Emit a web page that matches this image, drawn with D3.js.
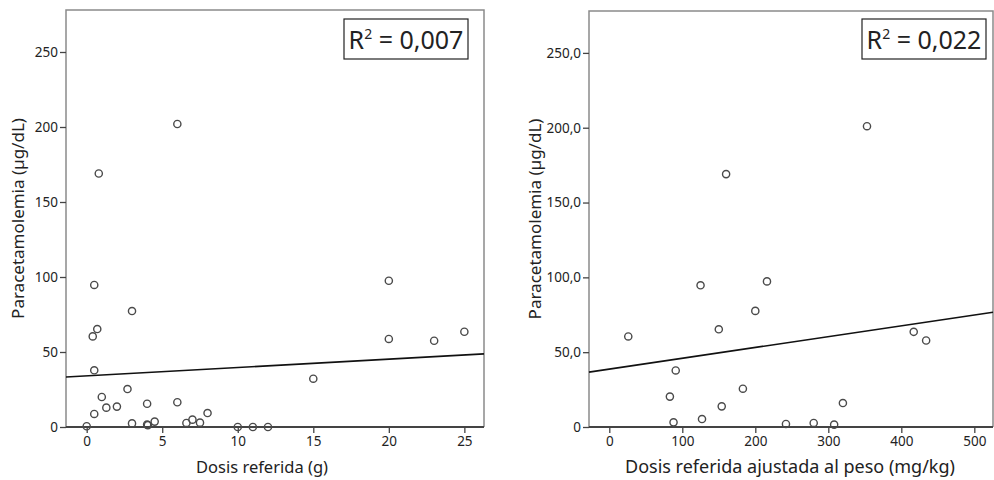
<!DOCTYPE html>
<html>
<head>
<meta charset="utf-8">
<script src="https://cdn.jsdelivr.net/npm/d3@7"></script>
<style>
  body { margin: 0; background: #fff; }
  svg text { font-family: "Noto Sans", "Open Sans", sans-serif; fill: #222; }
</style>
</head>
<body>
<svg id="chart" width="994" height="480"></svg>
<script>
// left panel: dose (g) vs paracetamol level
var doseG = [0.8, 6, 0.5, 3, 0.7, 0.4, 0.5, 2.7, 1.0, 1.3, 2.0, 0.5, 4.0, 6.0, 8.0,
             0, 3.0, 4.0, 4.05, 4.5, 6.6, 7.0, 7.5, 10, 11, 12, 15, 20, 20, 23, 25]
var levelG = [169, 202, 94.7, 77.3, 65.3, 60.4, 37.8, 25.3, 20, 12.9, 13.6, 8.7, 15.5, 16.5, 9.3,
              0.5, 2.4, 1.6, 1.2, 3.6, 2.7, 4.9, 2.9, 0, 0, 0, 32.2, 97.5, 58.7, 57.5, 63.5]
// right panel: dose adjusted by weight (mg/kg)
var doseKg = [160, 353, 125, 26, 150, 91, 83, 183, 154, 88, 127, 216, 200, 417, 434, 320, 242, 280, 308]
var levelKg = [169, 201, 94.7, 60.5, 65.3, 37.8, 20.3, 25.6, 13.8, 3.1, 5.3, 97.3, 77.6, 63.6, 57.8, 16, 2, 2.7, 1.6]

// fit lines [intercept, slope]
var fitG = [34.1, 0.556]
var fitKg = [38.7, 0.0723]
var r2Labels = ["0,007", "0,022"]

var yTicks = [0, 50, 100, 150, 200, 250]
var xTicksG = [0, 5, 10, 15, 20, 25]
var xTicksKg = [0, 100, 200, 300, 400, 500]

var svg = d3.select("#chart")

function drawPanel(opts){
    var g = svg.append("g")
    var x = d3.scaleLinear().domain(opts.xDomain).range([opts.left, opts.right])
    var y = d3.scaleLinear().domain([0, 278]).range([opts.bottom, opts.top])

    // frame (top / right / left)
    g.append("path")
        .attr("d", "M" + opts.left + "," + opts.bottom + "V" + opts.top + "H" + opts.right + "V" + opts.bottom)
        .attr("fill", "none")
        .attr("stroke", "#8a8a8a")
        .attr("stroke-width", 1.5)

    var yAxis = g.append("g")
        .attr("transform", "translate(" + opts.left + ",0)")
        .call(d3.axisLeft(y).tickValues(yTicks).tickSize(6).tickPadding(2).tickFormat(opts.yFormat))
    yAxis.select(".domain").remove()
    yAxis.selectAll("line").attr("stroke", "#444").attr("stroke-width", 1.3)
    yAxis.selectAll("text").style("font-size", "13.5px").attr("fill", "#222")

    var xAxis = g.append("g")
        .attr("transform", "translate(0," + opts.bottom + ")")
        .call(d3.axisBottom(x).tickValues(opts.xTicks).tickSize(6).tickPadding(3).tickFormat(d3.format("d")))
    xAxis.select(".domain").attr("stroke", "#444").attr("stroke-width", 2.2)
        .attr("d", "M" + opts.left + ",0H" + opts.right)
    xAxis.selectAll("line").attr("stroke", "#444").attr("stroke-width", 1.3)
    xAxis.selectAll("text").style("font-size", "13.5px").attr("fill", "#222")

    // regression line
    var xs = opts.xDomain
    g.append("line")
        .attr("x1", x(xs[0])).attr("y1", y(opts.fit[0] + opts.fit[1] * xs[0]))
        .attr("x2", x(xs[1])).attr("y2", y(opts.fit[0] + opts.fit[1] * xs[1]))
        .attr("stroke", "#111")
        .attr("stroke-width", 1.6)

    // points
    g.append("g").selectAll("circle")
        .data(opts.xs)
        .enter()
        .append("circle")
        .attr("cx", function(d){ return x(d) })
        .attr("cy", function(d, i){ return y(opts.ys[i]) })
        .attr("r", 3.6)
        .attr("fill", "none")
        .attr("stroke", "#4a4a4a")
        .attr("stroke-width", 1.4)

    // R2 box
    var box = g.append("g").attr("transform", "translate(" + opts.boxX + ",19)")
    box.append("rect")
        .attr("width", opts.boxW).attr("height", 40)
        .attr("fill", "#fff").attr("stroke", "#222").attr("stroke-width", 1.2)
    var t = box.append("text")
        .attr("x", opts.boxW / 2).attr("y", 30)
        .attr("text-anchor", "middle")
        .style("font-size", "25px")
    t.append("tspan").text("R")
    t.append("tspan").attr("dy", -10).style("font-size", "14px").text("2")
    t.append("tspan").attr("dy", 10).text(" = " + opts.r2)

    // axis titles
    g.append("text")
        .attr("transform", "translate(" + opts.yLabelX + "," + ((opts.top + opts.bottom) / 2) + ") rotate(-90)")
        .attr("text-anchor", "middle")
        .attr("dy", "0.35em")
        .style("font-size", "17px")
        .text("Paracetamolemia (µg/dL)")

    g.append("text")
        .attr("x", opts.xLabelX).attr("y", 473)
        .attr("text-anchor", "middle")
        .style("font-size", opts.xLabelSize)
        .text(opts.xLabel)
}

drawPanel({
    left: 66, right: 484, top: 10, bottom: 427,
    xDomain: [-1.37, 26.3], xTicks: xTicksG,
    xs: doseG, ys: levelG, fit: fitG, r2: r2Labels[0],
    yFormat: d3.format("d"),
    boxX: 344, boxW: 124,
    yLabelX: 18, xLabelX: 262, xLabel: "Dosis referida (g)", xLabelSize: "16.5px"
})

drawPanel({
    left: 589, right: 993, top: 11, bottom: 427,
    xDomain: [-27.8, 525.6], xTicks: xTicksKg,
    xs: doseKg, ys: levelKg, fit: fitKg, r2: r2Labels[1],
    yFormat: function(d){ return d === 0 ? "0" : d3.format(".1f")(d).replace(".", ",") },
    boxX: 862, boxW: 124,
    yLabelX: 535, xLabelX: 790, xLabel: "Dosis referida ajustada al peso (mg/kg)", xLabelSize: "18px"
})
</script>
</body>
</html>
